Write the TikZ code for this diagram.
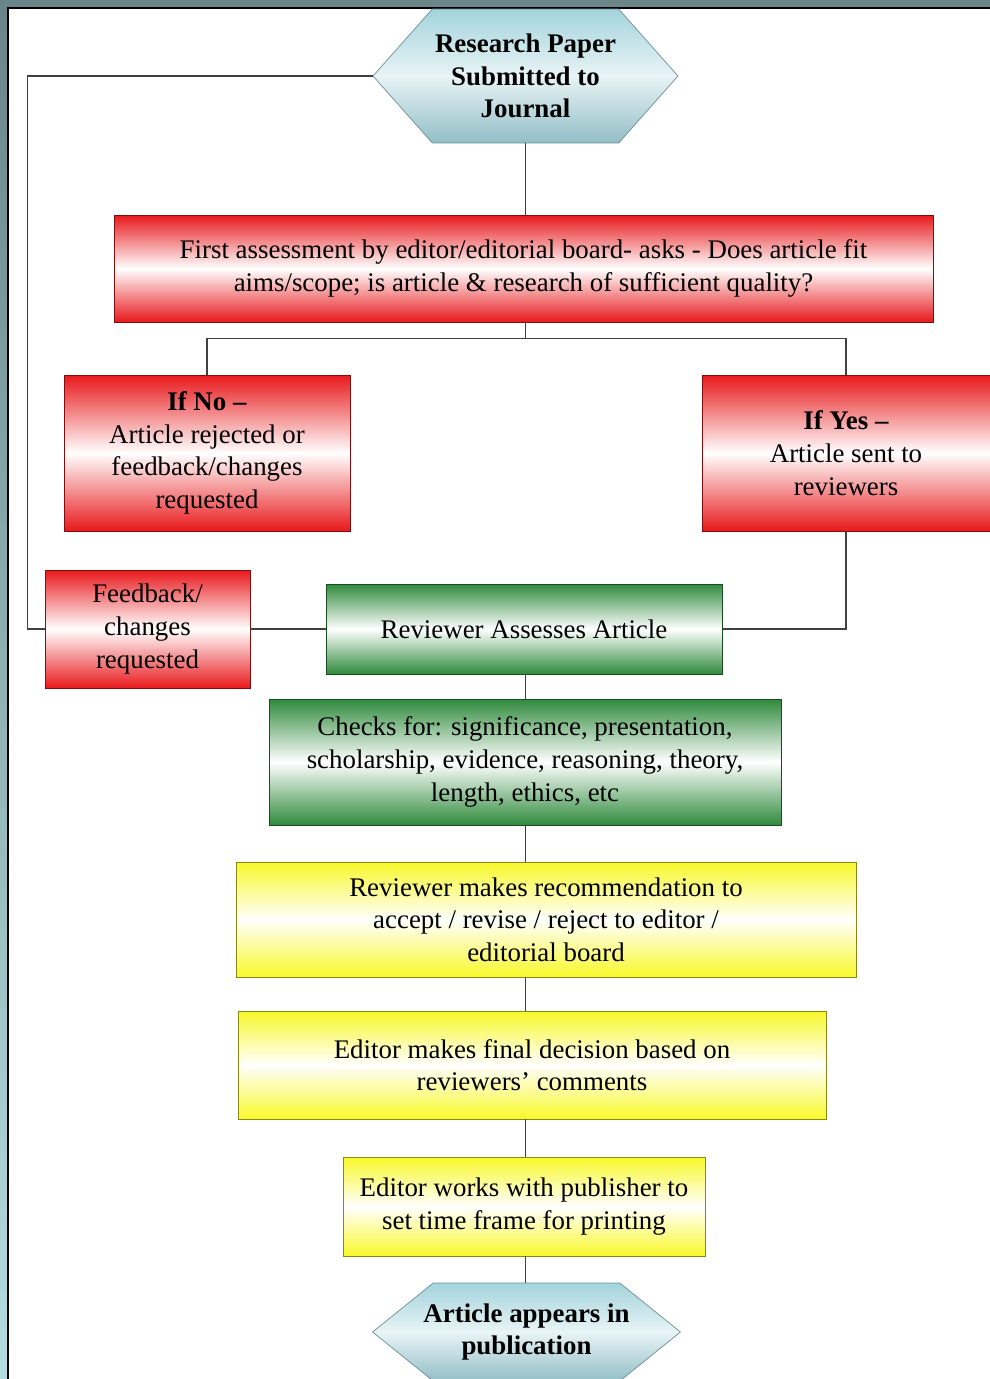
\documentclass[tikz,border=0pt]{standalone}
\usepackage{fontspec}
\setmainfont{Liberation Serif}
\usetikzlibrary{shapes.symbols}

\definecolor{framegray}{HTML}{6B8688}
\definecolor{framecyan}{HTML}{B4DDE0}
\definecolor{boxred}{HTML}{E8191C}
\definecolor{boxgreen}{HTML}{2F8A3C}
\definecolor{boxyellow}{HTML}{F8F82A}
\definecolor{hexblue}{HTML}{A3D3DC}
\definecolor{hexline}{HTML}{6F8F95}

\newcommand{\boxfont}{\fontsize{15.3}{18.6}\selectfont}

\tikzset{
  box/.style={
    rectangle,
    draw=#1!55!black,
    top color=#1,
    bottom color=#1,
    middle color=white,
    align=center,
    inner sep=2pt,
    font=\boxfont
  },
  hexbox/.style={
    shape=signal,
    signal to=east and west,
    draw=hexline,
    top color=hexblue,
    bottom color=hexblue!90!black,
    middle color=hexblue!25,
    align=center,
    inner sep=1pt,
    font=\bfseries\boxfont
  },
  link/.style={
    draw=black!75,
    line width=0.7pt
  }
}

\begin{document}
\begin{tikzpicture}[x=0.02cm,y=-0.02cm]

\clip (0,0) rectangle (990,1379);

% frame
\fill[framegray] (0,0) rectangle (990,1379);
\shade[top color=framegray, bottom color=framecyan] (0,8) rectangle (8,1379);
\fill[white] (8,8) rectangle (990,1379);
\draw[line width=1.2pt] (8,1379) -- (8,8) -- (990,8);

\node[hexbox, minimum width=6.1cm, minimum height=2.68cm,
      signal pointer angle=97] (top) at (525.5,76)
{Research Paper\\Submitted to\\Journal};

\node[box=boxred, minimum width=16.38cm, minimum height=2.14cm] (first) at (523.5,268.5)
{First assessment by editor/editorial board- asks - Does article fit\\
aims/scope; is article \& research of sufficient quality?};

\node[box=boxred, minimum width=5.72cm, minimum height=3.12cm] (no) at (207,453)
{\textbf{If No –}\\Article rejected or\\feedback/changes\\requested};

\node[box=boxred, minimum width=5.76cm, minimum height=3.12cm] (yes) at (846,453)
{\textbf{If Yes –}\\Article sent to\\reviewers};

\node[box=boxred, minimum width=4.1cm, minimum height=2.36cm] (fb) at (147.5,629)
{Feedback/\\changes\\requested};

\node[box=boxgreen, minimum width=7.92cm, minimum height=1.8cm] (rev) at (524,629)
{Reviewer Assesses Article};

\node[box=boxgreen, minimum width=10.24cm, minimum height=2.52cm] (chk) at (525,762)
{Checks for: significance, presentation,\\
scholarship, evidence, reasoning, theory,\\
length, ethics, etc};

\node[box=boxyellow, minimum width=12.4cm, minimum height=2.3cm] (rec) at (546,919.5)
{Reviewer makes recommendation to\\
accept / revise / reject to editor /\\
editorial board};

\node[box=boxyellow, minimum width=11.76cm, minimum height=2.16cm] (fin) at (532,1065)
{Editor makes final decision based on\\reviewers’ comments};

\node[box=boxyellow, minimum width=7.24cm, minimum height=1.98cm] (pub) at (524,1206.5)
{Editor works with publisher to\\set time frame for printing};

\node[hexbox, inner xsep=-5.5pt, minimum height=1.96cm,
      signal pointer angle=78] (bot) at (526.5,1332)
{Article appears in\\publication};

% connectors
\draw[link] (top.west) -- ++(-345,0) |- (fb.west);
\draw[link] (top.south) -- (top.south |- first.north);
\draw[link] (first.south -| top.south) -- ++(0,16) -| (no.north);
\draw[link] (first.south -| top.south) -- ++(0,16) -| (yes.north);
\draw[link] (yes.south) |- (rev.east);
\draw[link] (fb.east) -- (rev.west);

\draw[link] (rev.south -| top.south) -- (chk.north -| top.south);
\draw[link] (chk.south -| top.south) -- (rec.north -| top.south);
\draw[link] (rec.south -| top.south) -- (fin.north -| top.south);
\draw[link] (fin.south -| top.south) -- (pub.north -| top.south);
\draw[link] (pub.south -| top.south) -- (bot.north -| top.south);

\end{tikzpicture}
\end{document}
